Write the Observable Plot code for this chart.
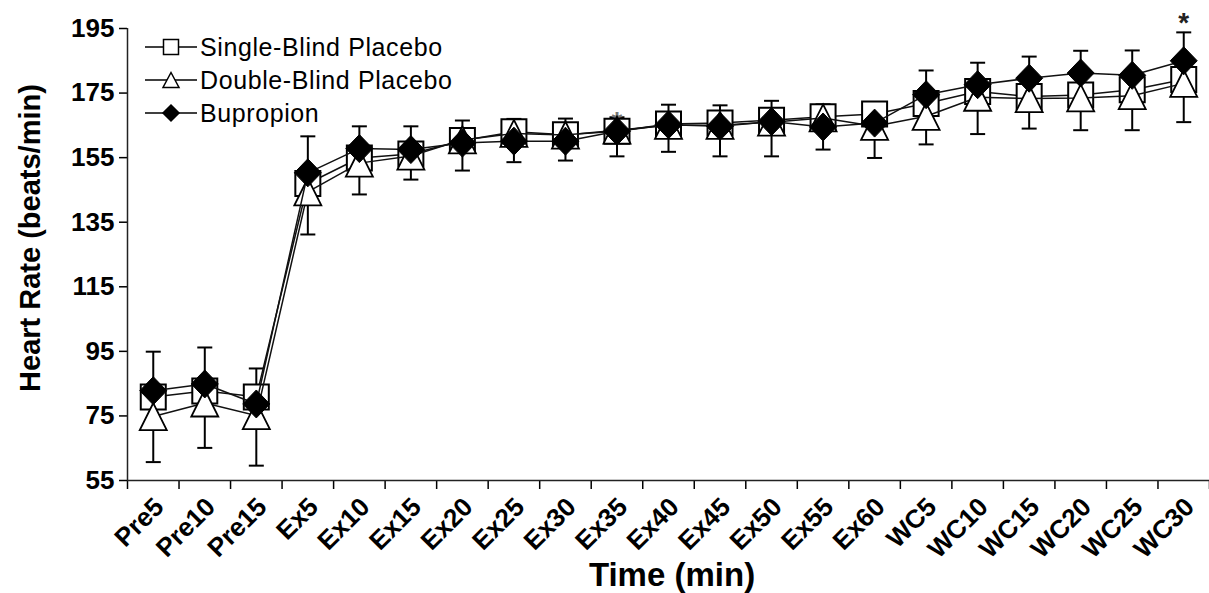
<!DOCTYPE html>
<html>
<head>
<meta charset="utf-8">
<script src="https://cdn.jsdelivr.net/npm/d3@7"></script>
<script src="https://cdn.jsdelivr.net/npm/@observablehq/plot@0.6"></script>
<style>
  html, body { margin: 0; padding: 0; background: #fff; }
  #chart { width: 1209px; height: 593px; overflow: hidden; }
</style>
</head>
<body>
<div id="chart"></div>
<script>
// ---- data ----
const categories = ["Pre5","Pre10","Pre15","Ex5","Ex10","Ex15","Ex20","Ex25","Ex30","Ex35","Ex40","Ex45","Ex50","Ex55","Ex60","WC5","WC10","WC15","WC20","WC25","WC30"];
const singleBlind = [80.9, 82.7, 80.9, 147.0, 154.9, 156.1, 160.3, 163.0, 162.1, 163.2, 165.4, 165.7, 166.6, 167.7, 168.5, 171.8, 175.5, 173.9, 174.4, 176.0, 179.2];
const doubleBlind = [74.8, 79.0, 75.1, 144.4, 153.3, 155.5, 160.5, 162.5, 162.0, 163.5, 165.0, 165.0, 166.0, 167.3, 164.7, 167.8, 173.7, 173.3, 173.5, 174.2, 178.0];
const bupropion   = [82.8, 84.9, 78.7, 150.3, 157.8, 157.5, 159.5, 160.1, 160.1, 163.2, 165.2, 164.7, 166.2, 164.5, 165.7, 174.5, 177.6, 179.6, 181.2, 180.5, 185.0];
const errHigh     = [94.9, 96.2, 89.7, 161.6, 164.7, 164.7, 166.5, 167.0, 167.1, 167.5, 171.4, 171.2, 172.6, 171.5, 172.0, 182.0, 184.4, 186.3, 188.1, 188.2, 193.8];
const errLow      = [60.7, 65.1, 59.6, 131.2, 143.6, 148.2, 151.0, 153.6, 154.1, 155.4, 156.8, 155.4, 155.4, 157.5, 154.9, 159.1, 162.3, 164.0, 163.5, 163.5, 166.0];
const yTicks = [55, 75, 95, 115, 135, 155, 175, 195];
const seriesNames = ["Single-Blind Placebo", "Double-Blind Placebo", "Bupropion"];
const starCats = ["Ex35", "WC30"];
const starVals = [168.6, 199.2];
const xTitle = "Time (min)";
const yTitle = "Heart Rate (beats/min)";

// ---- symbols ----
function makeSquare(h) { return {draw(c) { c.moveTo(-h,-h); c.lineTo(h,-h); c.lineTo(h,h); c.lineTo(-h,h); c.closePath(); }}; }
function makeTri(w, h) { return {draw(c) { c.moveTo(0,-h); c.lineTo(w,h); c.lineTo(-w,h); c.closePath(); }}; }
function makeDiamond(w, h) { return {draw(c) { c.moveTo(0,-h); c.lineTo(w,0); c.lineTo(0,h); c.lineTo(-w,0); c.closePath(); }}; }
function capSym(w) { return {draw(c) { c.moveTo(-w,0); c.lineTo(w,0); }}; }

const sqSym = makeSquare(12.5), triSym = makeTri(13.5, 13.5), diaSym = makeDiamond(13.5, 14);
const ix = (d, i) => i;
const font = "'Liberation Sans', Arial, Helvetica, sans-serif";

const plot = Plot.plot({
  width: 1209, height: 593,
  marginLeft: 127, marginRight: 0, marginTop: 28, marginBottom: 113,
  x: {type: "linear", domain: [-0.5, categories.length - 0.5], axis: null},
  y: {domain: [55, 195], axis: null},
  style: {fontFamily: font, background: "white", color: "black", overflow: "visible"},
  marks: [
    // axes
    Plot.axisY({ticks: yTicks, tickSize: 8, tickPadding: 5, tickFormat: d => String(d), fontSize: 26, fontWeight: "bold", label: null, strokeWidth: 1.5}),
    Plot.axisX({ticks: d3.range(-0.5, categories.length, 1), tickSize: 9, tickFormat: () => "", label: null, strokeWidth: 1.5}),
    Plot.ruleY([55], {stroke: "#222", strokeWidth: 1.5}),
    Plot.ruleX([-0.5], {y1: 55, y2: 195, stroke: "#222", strokeWidth: 1.5}),
    // error bars
    Plot.ruleX(categories, {x: ix, y1: (d,i) => errLow[i], y2: (d,i) => errHigh[i], stroke: "black", strokeWidth: 2}),
    Plot.dot(categories, {x: ix, y: (d,i) => errHigh[i], symbol: capSym(7.5), stroke: "black", strokeWidth: 2, fill: "none"}),
    Plot.dot(categories, {x: ix, y: (d,i) => errLow[i], symbol: capSym(7.5), stroke: "black", strokeWidth: 2, fill: "none"}),
    // asterisks
    Plot.text(starCats, {x: d => categories.indexOf(d), y: (d,i) => starVals[i], text: () => "*", fontSize: 28, fontWeight: "bold", fill: (d,i) => i === 0 ? "#777" : "#222", dy: 8}),
    // single-blind
    Plot.line(categories, {x: ix, y: (d,i) => singleBlind[i], stroke: "#111", strokeWidth: 1.5}),
    Plot.dot(categories, {x: ix, y: (d,i) => singleBlind[i], symbol: sqSym, fill: "white", stroke: "black", strokeWidth: 2}),
    // double-blind
    Plot.line(categories, {x: ix, y: (d,i) => doubleBlind[i], stroke: "#111", strokeWidth: 1.5}),
    Plot.dot(categories, {x: ix, y: (d,i) => doubleBlind[i], symbol: triSym, fill: "white", stroke: "black", strokeWidth: 1.8}),
    // bupropion
    Plot.line(categories, {x: ix, y: (d,i) => bupropion[i], stroke: "#111", strokeWidth: 1.5}),
    Plot.dot(categories, {x: ix, y: (d,i) => bupropion[i], symbol: diaSym, fill: "black", stroke: "black", strokeWidth: 1})
  ]
});

document.getElementById("chart").appendChild(plot);
const svg = d3.select(plot);
const xs = plot.scale("x"), ys = plot.scale("y");
const yBase = ys.apply(55);

// rotated category tick labels, positioned through Plot's x scale
const c45 = Math.SQRT1_2;
const tl = svg.append("g").attr("font-family", font).attr("font-size", 26).attr("font-weight", "bold");
categories.forEach((c, i) => {
  const x = xs.apply(i) + 6, y = yBase + 22;
  tl.append("g").attr("transform", `matrix(${c45},${-c45},${c45},${c45},${x},${y})`)
    .append("text").attr("x", 0).attr("y", 0).attr("text-anchor", "end").attr("dy", "0.35em").text(c);
});

// titles
svg.append("text").attr("x", 672).attr("y", 586).attr("text-anchor", "middle")
  .attr("font-family", font).attr("font-size", 33).attr("font-weight", "bold").text(xTitle);
svg.append("text").attr("transform", "translate(40,238) rotate(-90)").attr("text-anchor", "middle")
  .attr("font-family", font).attr("font-size", 29).attr("font-weight", "bold").text(yTitle);

// legend
const legendSyms = [
  {sym: makeSquare(7.5), fill: "white"},
  {sym: makeTri(8, 7.5), fill: "white"},
  {sym: makeDiamond(8, 8), fill: "black"}
];
const lg = svg.append("g").attr("text-anchor", "start");
seriesNames.forEach((name, k) => {
  const y = 47 + k * 33;
  lg.append("line").attr("x1", 145).attr("x2", 197).attr("y1", y).attr("y2", y).attr("stroke", "black").attr("stroke-width", 1.5);
  const p = d3.path(); legendSyms[k].sym.draw(p);
  lg.append("path").attr("d", p.toString()).attr("transform", `translate(171,${y})`)
    .attr("fill", legendSyms[k].fill).attr("stroke", "black").attr("stroke-width", 1.5);
  lg.append("text").attr("x", 200).attr("y", y).attr("dy", "0.36em").attr("text-anchor", "start")
    .attr("font-family", font).attr("font-size", 25).attr("letter-spacing", "0.6px").text(name);
});
</script>
</body>
</html>
